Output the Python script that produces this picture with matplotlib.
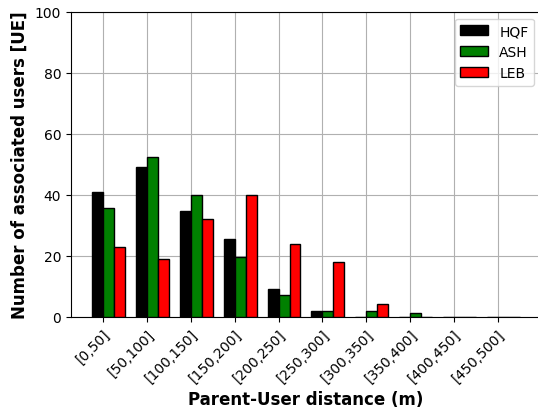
import numpy as np
import matplotlib
matplotlib.use("Agg")
import matplotlib.pyplot as plt

categories = ["[0,50]", "[50,100]", "[100,150]", "[150,200]", "[200,250]",
              "[250,300]", "[300,350]", "[350,400]", "[400,450]", "[450,500]"]
hqf = [41, 49, 34.5, 25.5, 9, 2, 0, 0, 0, 0]
ash = [35.5, 52.5, 40, 19.5, 7, 2, 2, 1.2, 0, 0]
leb = [23, 19, 32, 40, 24, 18, 4.2, 0, 0, 0]

W, H = 538, 414
fig = plt.figure(figsize=(W/100, H/100), dpi=100)
left, right, top, bottom = 70.9, 541.0, 12.7, 317.7
ax = fig.add_axes([left/W, 1-bottom/H, (right-left)/W, (bottom-top)/H])
x = np.arange(len(categories))
w = 0.25
ax.bar(x - w/2, hqf, w, color="black", edgecolor="black", label="HQF", zorder=3)
ax.bar(x + w/2, ash, w, color="green", edgecolor="black", label="ASH", zorder=3)
ax.bar(x + 3*w/2, leb, w, color="red", edgecolor="black", label="LEB", zorder=3)
ax.set_ylim(0, 100)
ax.set_xticks(x)
ax.set_xticklabels(categories, rotation=45, ha="right", rotation_mode="anchor")
ax.grid(True, color="#b0b0b0", zorder=0)
ax.set_axisbelow(True)
ax.set_ylabel("Number of associated users [UE]", fontsize=12, fontweight="bold")
ax.set_xlabel("Parent-User distance (m)", fontsize=12, fontweight="bold")
ax.legend(loc="upper right")
fig.savefig("out.png", dpi=100)
